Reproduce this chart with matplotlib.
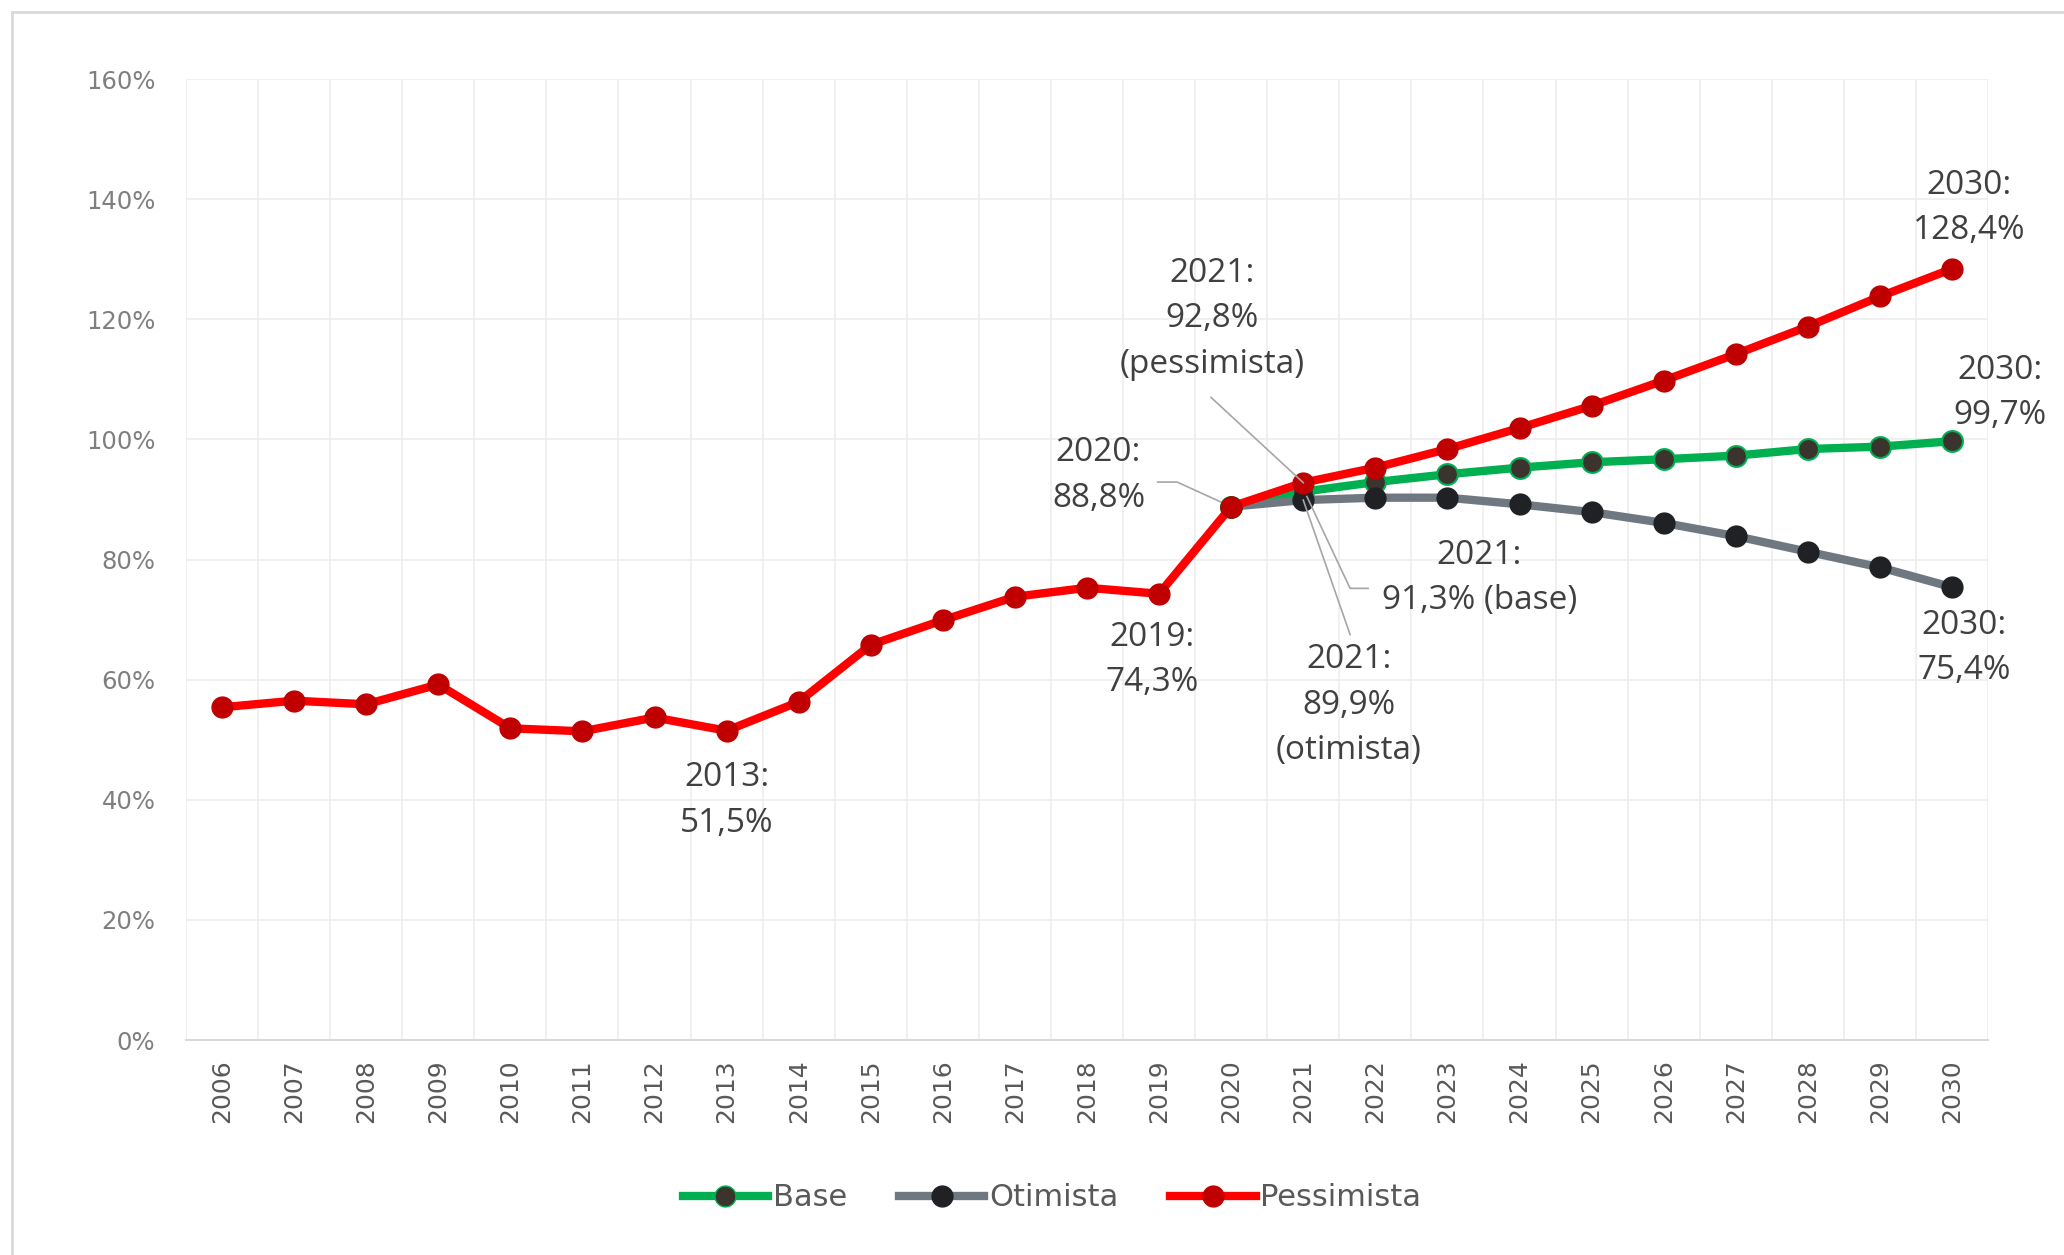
import matplotlib
matplotlib.use("Agg")
import matplotlib.pyplot as plt
from matplotlib.lines import Line2D
from matplotlib.patches import Rectangle

years = [str(y) for y in range(2006, 2031)]
pessimista = [55.4, 56.5, 55.9, 59.2, 51.9, 51.4, 53.7, 51.5, 56.3, 65.8, 69.9, 73.8,
              75.3, 74.3, 88.8, 92.8, 95.3, 98.4, 101.9, 105.6, 109.8, 114.2, 118.8, 123.8, 128.4]
base_years = years[14:]
base = [88.8, 91.3, 92.9, 94.2, 95.3, 96.2, 96.7, 97.3, 98.4, 98.8, 99.7]
otimista = [88.8, 89.9, 90.3, 90.3, 89.2, 87.9, 86.1, 83.9, 81.3, 78.7, 75.4]
yticks = [0, 20, 40, 60, 80, 100, 120, 140, 160]
ytick_labels = [f"{v}%" for v in yticks]

fig = plt.figure(figsize=(20.64, 12.55), dpi=100)
ax = fig.add_axes([0.0901, 0.1713, 0.8731, 0.7657])

# outer chart border
fig.patches.append(Rectangle((12/2064, -0.1), 1.2, (1255-12)/1255 + 0.1, transform=fig.transFigure,
                             fill=False, edgecolor="#D9D9D9", lw=2.0, zorder=0))

xi = list(range(len(years)))
bx = [years.index(y) for y in base_years]

GREEN = "#00B050"
GRAY = "#6F7880"
RED = "#FF0000"
LW = 6
MS = 15

ax.plot(bx, base, color=GREEN, lw=LW, marker="o", ms=MS, mfc="#3B332E", mec=GREEN, mew=1.5,
        zorder=3, solid_capstyle="round", label="Base")
ax.plot(bx, otimista, color=GRAY, lw=LW, marker="o", ms=MS, mfc="#1F2124", mec="#1F2124", mew=1,
        zorder=4, solid_capstyle="round", label="Otimista")
ax.plot(xi, pessimista, color=RED, lw=LW, marker="o", ms=MS, mfc="#C00000", mec="#C00000", mew=1,
        zorder=5, solid_capstyle="round", label="Pessimista")

ax.set_xlim(-0.5, len(years) - 0.5)
ax.set_ylim(0, 160)
ax.set_yticks(yticks)
ax.set_yticklabels(ytick_labels, fontsize=17.5, color="#7F7F7F", family="DejaVu Sans")
ax.set_xticks(xi)
ax.set_xticklabels(years, rotation=90, fontsize=18, color="#595959",
                   family=["Liberation Sans Narrow", "DejaVu Sans"])
ax.tick_params(axis="both", length=0, pad=14)
ax.tick_params(axis="y", pad=22)

# gridlines
for v in yticks[1:]:
    ax.axhline(v, color="#EDEDED", lw=1.2, zorder=0)
for k in range(len(years) + 1):
    ax.axvline(k - 0.5, color="#EDEDED", lw=1.2, zorder=0)
for s in ["top", "right", "left"]:
    ax.spines[s].set_visible(False)
ax.spines["bottom"].set_color("#D9D9D9")
ax.spines["bottom"].set_linewidth(1.5)

TXT = "#404040"
afont = dict(fontsize=24, color=TXT, family=["Open Sans", "DejaVu Sans"], ha="center",
             va="center", linespacing=1.5, zorder=6)

def lbl(x, y, s):
    ax.text(x, y, s, **afont)

lbl(7.0, 39.9, "2013:\n51,5%")
lbl(12.9, 63.3, "2019:\n74,3%")
lbl(12.16, 94.0, "2020:\n88,8%")
lbl(13.73, 120.1, "2021:\n92,8%\n(pessimista)")
lbl(17.44, 76.9, "2021:\n91,3% (base)")
lbl(15.63, 55.7, "2021:\n89,9%\n(otimista)")
lbl(24.24, 138.5, "2030:\n128,4%")
lbl(24.66, 107.7, "2030:\n99,7%")
lbl(24.17, 65.3, "2030:\n75,4%")

LC = "#A6A6A6"
ax.plot([12.98, 13.25, 14.0], [92.9, 92.9, 88.8], color=LC, lw=1.2, zorder=2)
ax.plot([13.72, 15.0], [107.0, 92.8], color=LC, lw=1.2, zorder=6)
ax.plot([15.9, 15.65, 15.05], [75.2, 75.2, 90.5], color=LC, lw=1.2, zorder=6)
ax.plot([15.65, 15.0], [67.5, 89.9], color=LC, lw=1.2, zorder=6)

handles = [
    Line2D([], [], color=GREEN, lw=LW, marker="o", ms=MS, mfc="#3B332E", mec=GREEN),
    Line2D([], [], color=GRAY, lw=LW, marker="o", ms=MS, mfc="#1F2124", mec="#1F2124"),
    Line2D([], [], color=RED, lw=LW, marker="o", ms=MS, mfc="#C00000", mec="#C00000"),
]
leg = fig.legend(handles, ["Base", "Otimista", "Pessimista"], loc="center",
                 bbox_to_anchor=(1052/2064, 1 - 1198/1255), ncol=3, frameon=False,
                 handlelength=2.8, handletextpad=0.15, columnspacing=1.7,
                 prop={"family": ["Liberation Sans Narrow", "DejaVu Sans"], "size": 22})
for t in leg.get_texts():
    t.set_color("#595959")

fig.savefig("out.png", dpi=100, facecolor="white")
